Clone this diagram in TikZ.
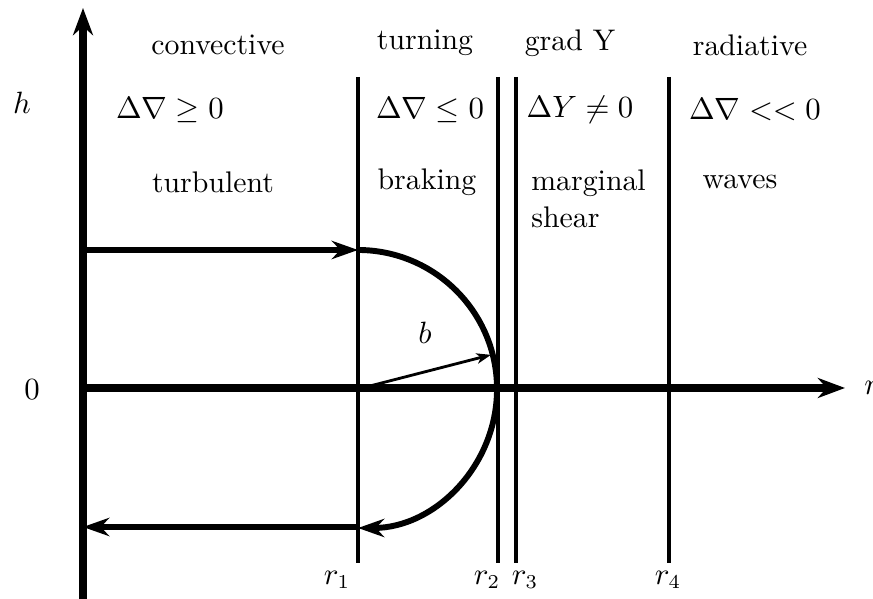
\documentclass[tikz,border=0pt]{standalone}
\usepackage{amssymb}
\usepackage{tikz}
\usetikzlibrary{positioning, arrows.meta, calc}

\begin{document}
\begin{tikzpicture}[
    x=0.0125cm, y=0.0125cm,
    axisline/.style={line width=2.5pt, -{Stealth[length=0.34cm, width=0.25cm, inset=0.11cm]}},
    flowline/.style={line width=2.3pt, -{Stealth[length=0.33cm, width=0.23cm, inset=0.11cm]}},
    bound/.style={line width=1.5pt},
    lbl/.style={inner sep=1pt, font=\fontsize{10.6}{12.7}\selectfont}
]
\useasboundingbox (-83,-211) rectangle (790,388);

% axes
\coordinate (o) at (0,0);
\coordinate (ybot) at (0,-211);
\coordinate (ytop) at (0,380);
\coordinate (xend) at (762,0);
\draw[axisline] (ybot) -- (ytop);
\draw[axisline] (o) -- (xend);
\node[lbl] (hlab) at (-61,285) {$h$};
\node[lbl] (zlab) at (-51,-2) {$0$};
\node[lbl, anchor=west] (rlab) at (778,0) {$r$};

% zone boundaries
\foreach \name/\x in {r1/275, r2/415, r3/433, r4/586} {
    \coordinate (\name top) at (\x,311);
    \coordinate (\name bot) at (\x,-175);
    \draw[bound] (\name top) -- (\name bot);
}
\node[lbl] (l1) at (254,-192) {$r_1$};
\node[lbl] (l2) at (404,-192) {$r_2$};
\node[lbl] (l3) at (442,-192) {$r_3$};
\node[lbl] (l4) at (585,-192) {$r_4$};

% zone labels
\node[lbl] (z1a) at (135,343) {convective};
\node[lbl] (z2a) at (342,345) {turning};
\node[lbl] (z3a) at (487,345) {grad Y};
\node[lbl] (z4a) at (667,343) {radiative};

\node[lbl] (z1b) at (87,278) {$\Delta\nabla \geq 0$};
\node[lbl] (z2b) at (347,278) {$\Delta\nabla \leq 0$};
\node[lbl] (z3b) at (497,278) {$\Delta Y \neq 0$};
\node[lbl] (z4b) at (672,278) {$\Delta\nabla << 0$};

\node[lbl] (z1c) at (130,206) {turbulent};
\node[lbl] (z2c) at (344,206) {braking};
\node[lbl, anchor=north west, align=left] (z3c) at (445,222) {marginal\\[0.5pt] shear};
\node[lbl] (z4c) at (657,206) {waves};

% circulation
\coordinate (inl) at (0,138);
\coordinate (intop) at (275,138);
\coordinate (inbot) at (275,-139);
\coordinate (outl) at (0,-139);
\draw[flowline] (inl) -- (intop);
\draw[line width=2.1pt, -{Stealth[length=0.33cm, width=0.23cm, inset=0.11cm]}] (intop) arc[start angle=90, end angle=-90, radius=139];
\draw[flowline] (inbot) -- (outl);

% radius
\coordinate (ctr) at (283,1);
\coordinate (rim) at ($(275,0)+(14:137)$);
\draw[line width=1pt, -{Stealth[length=0.18cm, width=0.13cm, inset=0.05cm]}] (ctr) -- (rim);
\node[lbl] (blab) at (342,55) {$b$};
\end{tikzpicture}
\end{document}
